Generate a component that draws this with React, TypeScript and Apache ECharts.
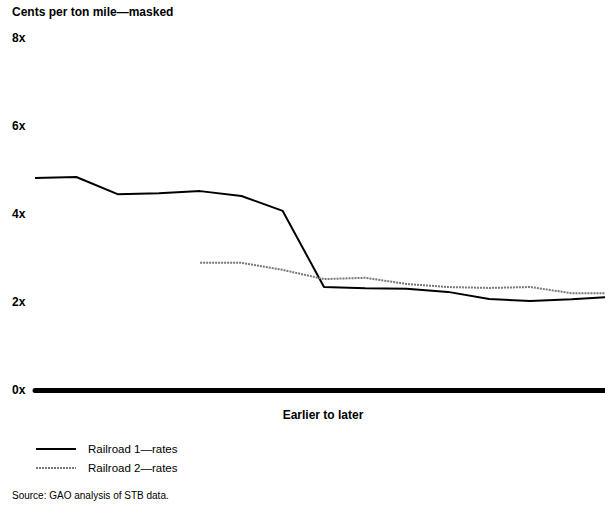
import React, { useEffect, useRef } from "react";
import * as echarts from "echarts";

const categories = ["1", "2", "3", "4", "5", "6", "7", "8", "9", "10", "11", "12", "13", "14", "15"];
const railroad1 = [4.82, 4.84, 4.45, 4.47, 4.52, 4.41, 4.07, 2.34, 2.31, 2.3, 2.23, 2.07, 2.02, 2.06, 2.12];
const railroad2 = [null, null, null, null, 2.89, 2.89, 2.73, 2.52, 2.55, 2.41, 2.34, 2.32, 2.34, 2.2, 2.2];
const yTicks = [0, 2, 4, 6, 8];
const FONT = "'Liberation Sans Narrow', 'Arial Narrow', 'Liberation Sans', Arial, sans-serif";

export default function App() {
  const ref = useRef<HTMLDivElement>(null);
  useEffect(() => {
    if (!ref.current) return;
    const chart = echarts.init(ref.current, undefined, { renderer: "svg" });
    chart.setOption({
      animation: false,
      textStyle: { fontFamily: FONT },
      title: {
        text: "Cents per ton mile\u2014masked",
        left: 12,
        top: 6,
        padding: 0,
        textStyle: { fontFamily: FONT, fontWeight: "bold", fontSize: 12, color: "#000" },
      },
      grid: { left: 35, top: 38, width: 578, height: 352 },
      xAxis: {
        type: "category",
        data: categories,
        boundaryGap: false,
        axisLine: { show: true, lineStyle: { color: "#000", width: 5 } },
        axisTick: { show: false },
        axisLabel: { show: false },
        splitLine: { show: false },
      },
      yAxis: {
        type: "value",
        min: 0,
        max: 8,
        interval: 2,
        axisLine: { show: false },
        axisTick: { show: false },
        splitLine: { show: false },
        axisLabel: {
          align: "left",
          margin: 23,
          fontFamily: FONT,
          fontWeight: "bold",
          fontSize: 12,
          color: "#000",
          formatter: (v: number) => (yTicks.includes(v) ? `${v}x` : ""),
        },
      },
      legend: {
        orient: "vertical",
        left: 35,
        top: 443,
        padding: 0,
        itemWidth: 40,
        itemHeight: 14,
        itemGap: 7,
        itemStyle: { opacity: 0 },
        textStyle: { fontFamily: FONT, fontSize: 11.5, color: "#000", padding: [0, 0, 0, 7] },
        data: ["Railroad 1\u2014rates", "Railroad 2\u2014rates"],
      },
      graphic: [
        {
          type: "text",
          x: 323,
          y: 415,
          style: {
            text: "Earlier to later",
            fontFamily: FONT,
            fontWeight: "bold",
            fontSize: 12,
            fill: "#000",
            align: "center",
            verticalAlign: "middle",
          },
        },
        {
          type: "text",
          x: 12,
          y: 495,
          style: {
            text: "Source: GAO analysis of STB data.",
            fontFamily: FONT,
            fontSize: 10,
            fill: "#000",
            align: "left",
            verticalAlign: "middle",
          },
        },
      ],
      series: [
        {
          name: "Railroad 1\u2014rates",
          type: "line",
          data: railroad1,
          symbol: "none",
          lineStyle: { color: "#000", width: 2 },
          itemStyle: { color: "#000" },
        },
        {
          name: "Railroad 2\u2014rates",
          type: "line",
          data: railroad2,
          symbol: "none",
          connectNulls: false,
          lineStyle: { color: "#777", width: 2, type: [2, 1] },
          itemStyle: { color: "#777" },
        },
      ],
    });
    return () => chart.dispose();
  }, []);
  return (
    <div style={{ position: "absolute", left: 0, top: 0, width: 605, height: 508, overflow: "hidden", background: "#fff" }}>
      <div ref={ref} style={{ width: 625, height: 508 }} />
    </div>
  );
}
